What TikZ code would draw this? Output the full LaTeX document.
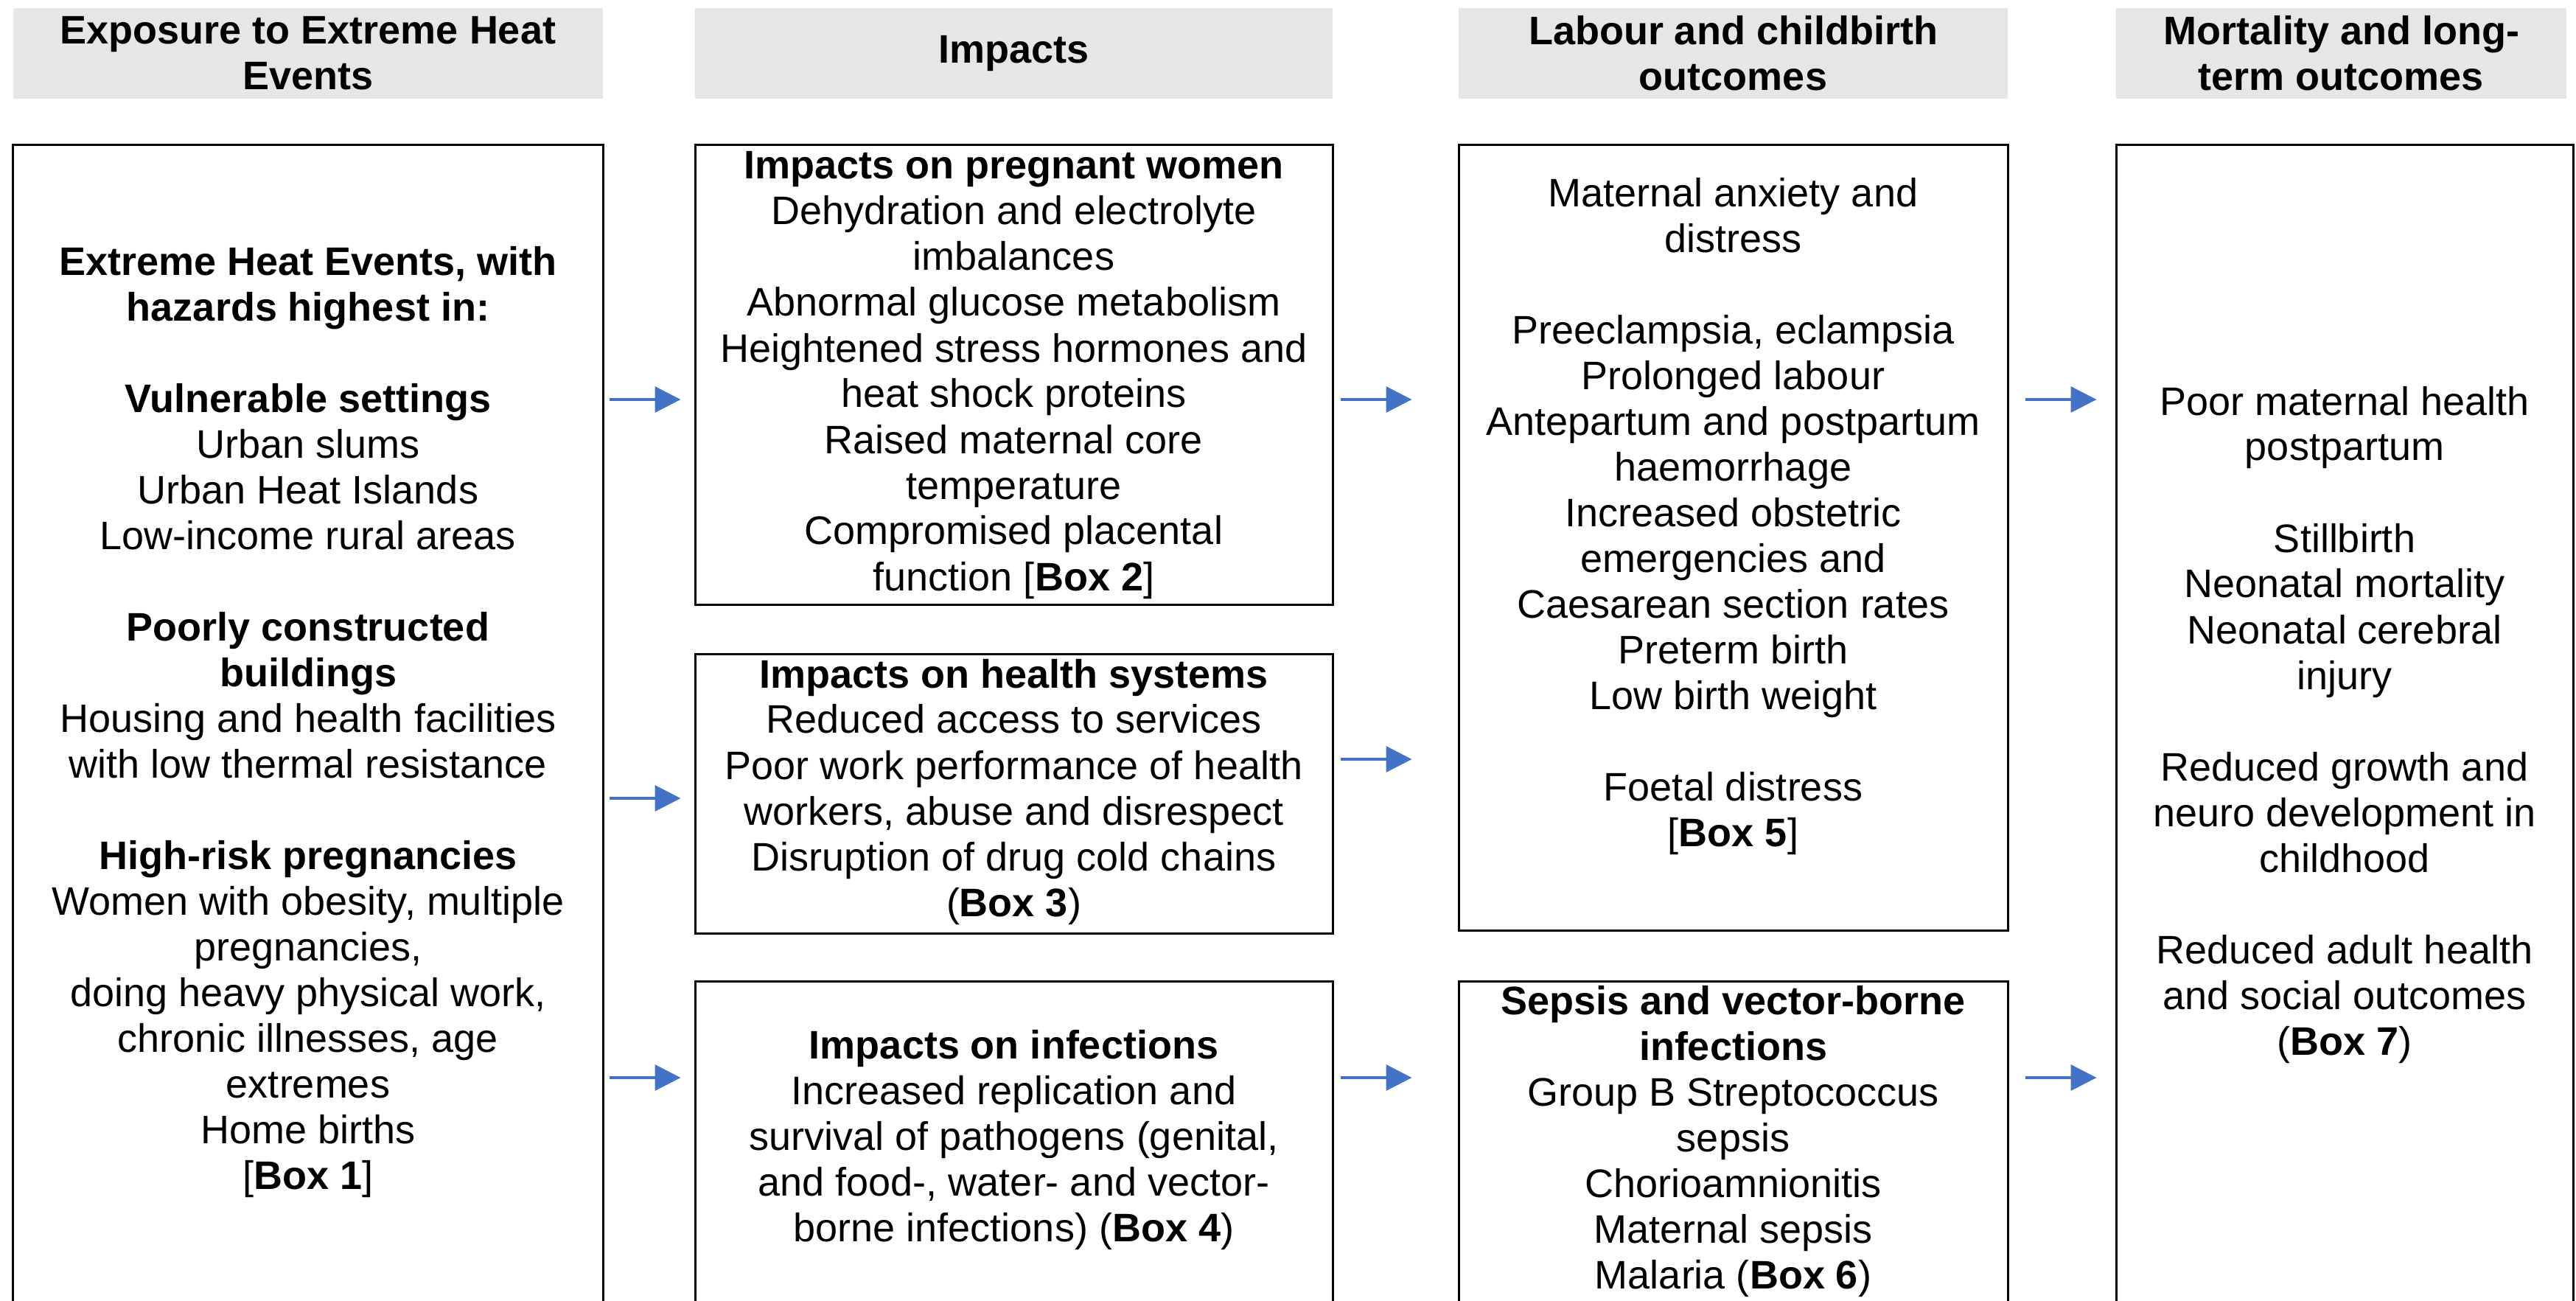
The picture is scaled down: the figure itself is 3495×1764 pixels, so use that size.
\documentclass[tikz,border=0pt]{standalone}
\usepackage{fontspec}
\setmainfont{Liberation Sans}
\usetikzlibrary{arrows.meta,calc}
\definecolor{hdrgray}{HTML}{E6E6E6}
\definecolor{arrblue}{HTML}{4472C4}
\begin{document}
\begin{tikzpicture}[x=0.2pt,y=-0.2pt,
  hdrbox/.style={fill=hdrgray, draw=none, inner sep=0pt, align=center,
    font=\bfseries\fontsize{10.8}{12.4}\selectfont},
  frame/.style={draw=black, line width=0.6pt, fill=none, inner sep=0pt},
  txt/.style={inner sep=0pt, align=center, font=\fontsize{10.8}{12.4}\selectfont},
  arr/.style={draw=arrblue, line width=0.7pt, -{Triangle[length=7pt,width=7pt]}}]
\clip (0,0) rectangle (3495,1764);
\fill[white] (0,0) rectangle (3495,1764);
% headers
\node[hdrbox, minimum width=160pt, minimum height=24.6pt] (h1) at (418,72.5) {Exposure to Extreme Heat\\Events};
\node[hdrbox, minimum width=173pt, minimum height=24.6pt] (h2) at (1375.5,72.5) {Impacts};
\node[hdrbox, minimum width=149pt, minimum height=24.6pt] (h3) at (2351.5,72.5) {Labour and childbirth\\outcomes};
\node[hdrbox, minimum width=122.2pt, minimum height=24.6pt] (h4) at (3176.5,72.5) {Mortality and long-\\term outcomes};
% boxes
\node[frame, minimum width=160pt, minimum height=320.8pt] (B) at (418,998) {};
\node[frame, minimum width=173pt, minimum height=124.8pt] (P) at (1375.5,508) {};
\node[frame, minimum width=173pt, minimum height=75.8pt] (S) at (1375.5,1076.5) {};
\node[frame, minimum width=173pt, minimum height=93.8pt] (I) at (1375.5,1565.5) {};
\node[frame, minimum width=149pt, minimum height=213.2pt] (O) at (2351.5,729) {};
\node[frame, minimum width=149pt, minimum height=93.8pt] (V) at (2351.5,1565.5) {};
\node[frame, minimum width=124pt, minimum height=320.8pt] (M) at (3181,998) {};
% texts
\node[txt] (tB) at (418,980) {\textbf{Extreme Heat Events, with}\\\textbf{hazards highest in:}\\~\\\textbf{Vulnerable settings}\\Urban slums\\Urban Heat Islands\\Low-income rural areas\\~\\\textbf{Poorly constructed}\\\textbf{buildings}\\Housing and health facilities\\with low thermal resistance\\~\\\textbf{High-risk pregnancies}\\Women with obesity, multiple\\pregnancies,\\doing heavy physical work,\\chronic illnesses, age\\extremes\\Home births\\{[}\textbf{Box 1}{]}};
\node[txt] (tP) at (1375.5,509) {\textbf{Impacts on pregnant women}\\Dehydration and electrolyte\\imbalances\\Abnormal glucose metabolism\\Heightened stress hormones and\\heat shock proteins\\Raised maternal core\\temperature\\Compromised placental\\function {[}\textbf{Box 2}{]}};
\node[txt] (tS) at (1375.5,1074) {\textbf{Impacts on health systems}\\Reduced access to services\\Poor work performance of health\\workers, abuse and disrespect\\Disruption of drug cold chains\\(\textbf{Box 3})};
\node[txt] (tI) at (1375.5,1546) {\textbf{Impacts on infections}\\Increased replication and\\survival of pathogens (genital,\\and food-, water- and vector-\\borne infections) (\textbf{Box 4})};
\node[txt] (tO) at (2351.5,701) {Maternal anxiety and\\distress\\~\\Preeclampsia, eclampsia\\Prolonged labour\\Antepartum and postpartum\\haemorrhage\\Increased obstetric\\emergencies and\\Caesarean section rates\\Preterm birth\\Low birth weight\\~\\Foetal distress\\{[}\textbf{Box 5}{]}};
\node[txt] (tV) at (2351.5,1548) {\textbf{Sepsis and vector-borne}\\\textbf{infections}\\Group B Streptococcus\\sepsis\\Chorioamnionitis\\Maternal sepsis\\Malaria (\textbf{Box 6})};
\node[txt] (tM) at (3181,983) {Poor maternal health\\postpartum\\~\\Stillbirth\\Neonatal mortality\\Neonatal cerebral\\injury\\~\\Reduced growth and\\neuro development in\\childhood\\~\\Reduced adult health\\and social outcomes\\(\textbf{Box 7})};
% arrows
\draw[arr] ($(B.east |- 0,542)+(7,0)$) -- ($(P.west |- 0,542)+(-18,0)$);
\draw[arr] ($(B.east |- 0,1083)+(7,0)$) -- ($(S.west |- 0,1083)+(-18,0)$);
\draw[arr] ($(B.east |- 0,1462)+(7,0)$) -- ($(I.west |- 0,1462)+(-18,0)$);
\draw[arr] ($(P.east |- 0,542)+(9,0)$) -- ($(O.west |- 0,542)+(-62,0)$);
\draw[arr] ($(S.east |- 0,1030)+(9,0)$) -- ($(O.west |- 0,1030)+(-62,0)$);
\draw[arr] ($(I.east |- 0,1462)+(9,0)$) -- ($(V.west |- 0,1462)+(-62,0)$);
\draw[arr] ($(O.east |- 0,542)+(22,0)$) -- ($(M.west |- 0,542)+(-25,0)$);
\draw[arr] ($(V.east |- 0,1462)+(22,0)$) -- ($(M.west |- 0,1462)+(-25,0)$);
\end{tikzpicture}
\end{document}
